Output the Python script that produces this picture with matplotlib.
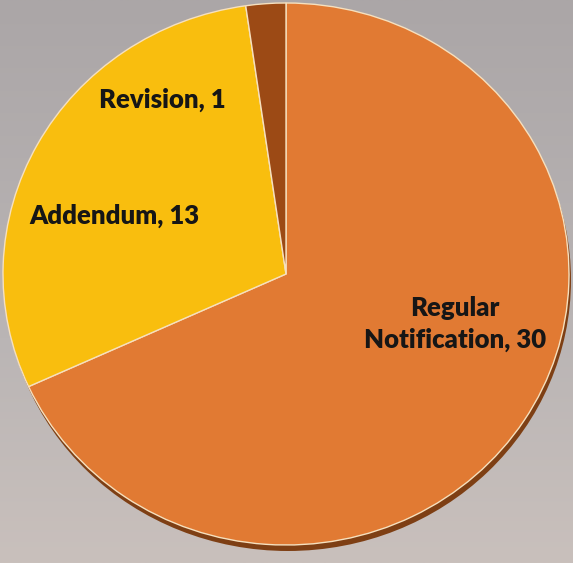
import numpy as np
import matplotlib
matplotlib.use("Agg")
import matplotlib.pyplot as plt
from matplotlib.patches import Ellipse

labels = ["Regular\nNotification", "Addendum", "Revision"]
values = [30, 13, 1]
colors = ["#E17A33", "#F9BE0E", "#9C4A15"]

W, H = 573, 563
CX, CY = 286, 274      # pie centre in pixels (from top-left)
RX, RY = 283, 271      # pie radius in pixels

fig = plt.figure(figsize=(W / 100, H / 100), dpi=100)
ax = fig.add_axes([0, 0, 1, 1])

def px(x, y):
    return ((x - CX) / RX, (CY - y) / RY)

x0, y1 = px(0, 0)
x1, y0 = px(W, H)

# background gradient
g = np.linspace(0, 1, 256)[:, None]
top = np.array([171, 166, 167]) / 255
mid = np.array([186, 181, 181]) / 255
bot = np.array([201, 192, 188]) / 255
grad = np.where(g < 0.6, top + (mid - top) * (g / 0.6), mid + (bot - mid) * ((g - 0.6) / 0.4))
grad = grad.reshape(256, 1, 3)
ax.imshow(grad, extent=[x0, x1, y0, y1], aspect="auto", zorder=0, interpolation="bilinear")

# shadow
sx, sy = 2 / RX, -6 / RY
ax.add_patch(Ellipse((sx, sy), 2, 2, facecolor="#7E3F14", edgecolor="none", zorder=1))

wedges, _ = ax.pie(values, colors=colors, startangle=90, counterclock=False,
                   radius=1, center=(0, 0),
                   wedgeprops=dict(edgecolor="#F6E0BE", linewidth=1.0, zorder=2))
for w in wedges:
    w.set_zorder(2)

ax.set_aspect("auto")
ax.set_xlim(x0, x1)
ax.set_ylim(y0, y1)
ax.axis("off")

font = dict(family=["Lato", "DejaVu Sans"], fontweight="heavy", fontsize=18.5,
            color="#161616", ha="center", va="center", zorder=5)
pos = [(455, 324), (114, 216), (162, 100)]
for lab, v, (x, y) in zip(labels, values, pos):
    ax.text(*px(x, y), f"{lab}, {v}", linespacing=1.35, **font)

fig.savefig("out.png", dpi=100)
